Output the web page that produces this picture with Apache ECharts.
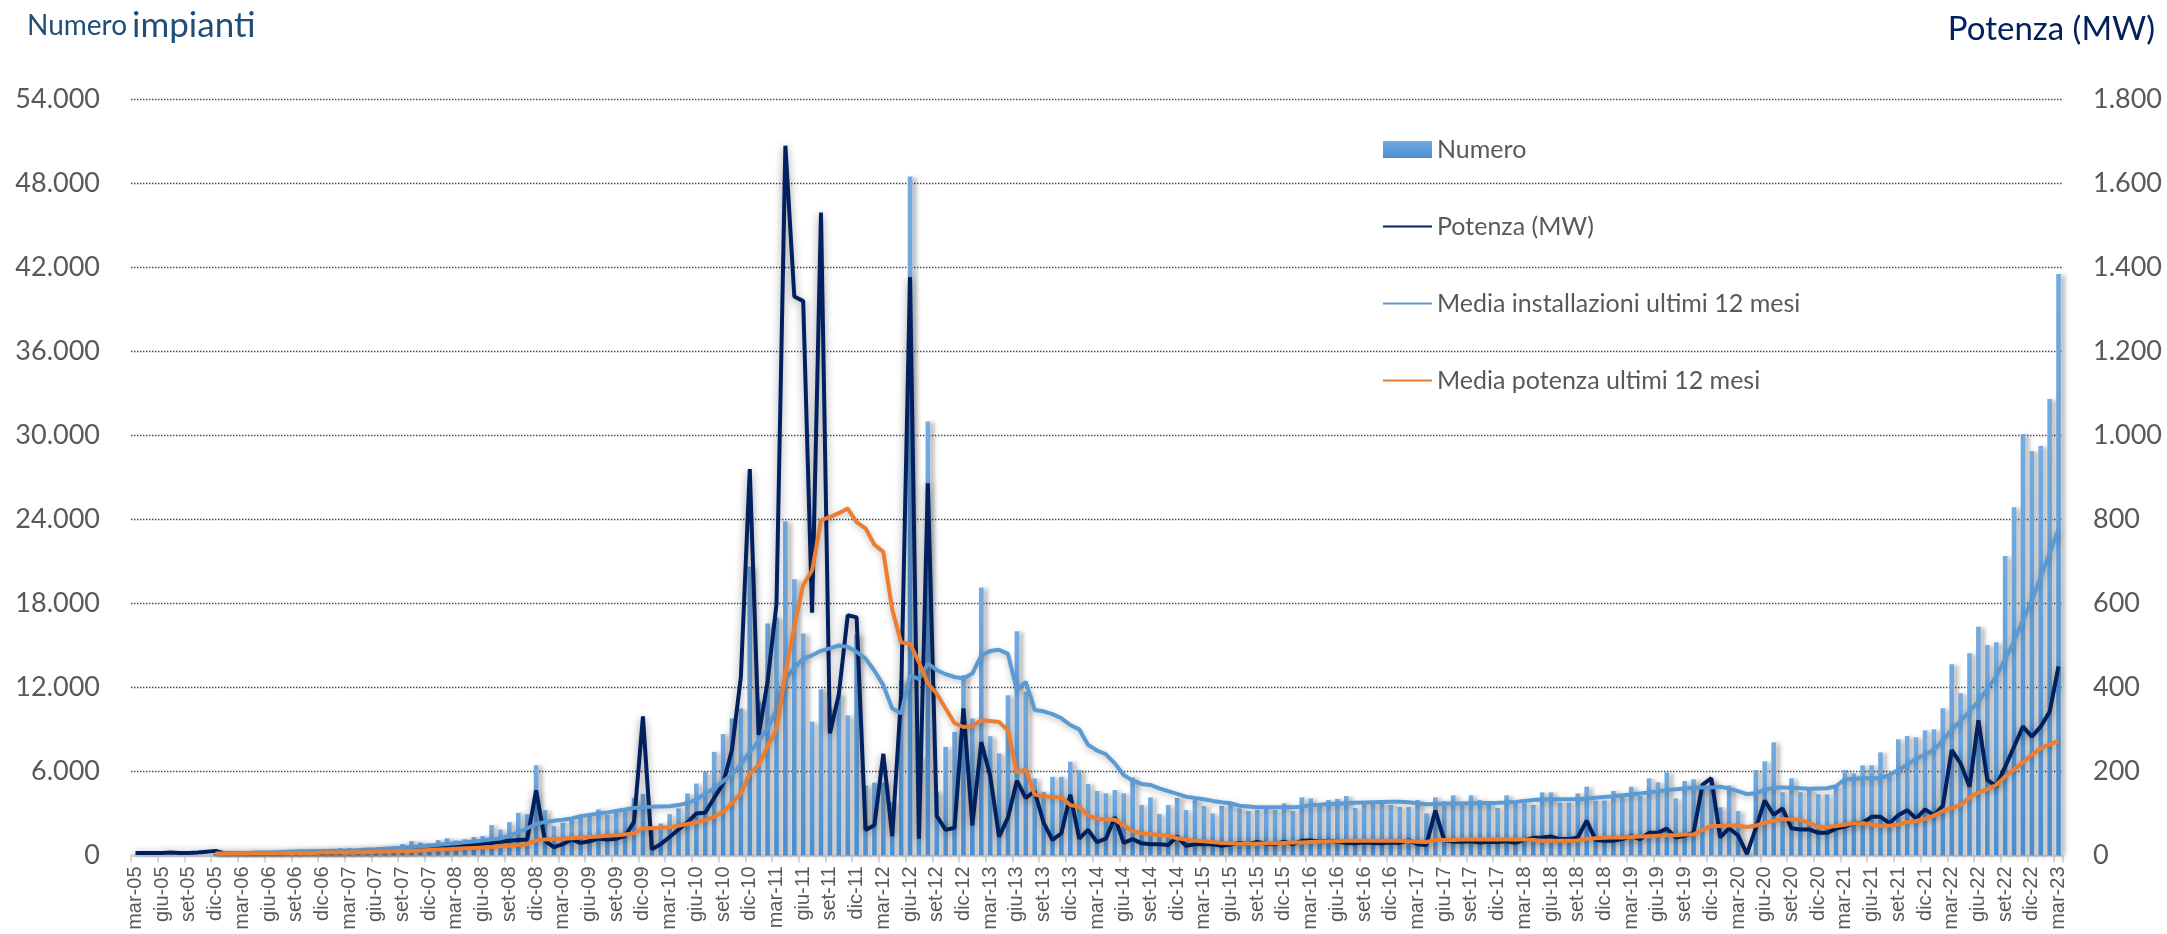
<!DOCTYPE html>
<html>
<head>
<meta charset="utf-8">
<script src="https://cdn.jsdelivr.net/npm/echarts@6/dist/echarts.min.js"></script>
<style>
html,body{margin:0;padding:0;background:#fff;}
#chart{width:2167px;height:934px;}
</style>
</head>
<body>
<div id="chart"></div>
<script>
// Month labels: mar-05 ... mar-23 (217 months)
var monthNames = ['gen','feb','mar','apr','mag','giu','lug','ago','set','ott','nov','dic'];
var categories = [];
for (var k = 0; k < 217; k++) {
  var m = (2 + k) % 12;
  var y = 5 + Math.floor((2 + k) / 12);
  categories.push(monthNames[m] + '-' + (y < 10 ? '0' + y : '' + y));
}

// Numero impianti (monthly)
var numero = [
  0,0,0,0,0,0,0,0,0,120,150,150,
  180,200,200,220,250,300,380,400,420,450,476,524,
  524,500,524,540,570,666,815,1030,935,865,1100,1235,
  1080,1160,1320,1390,2175,1860,2380,3050,2950,6450,3240,2090,
  2330,2620,2710,2880,3290,2920,3270,3400,4130,4400,1900,2290,
  2950,3360,4430,5140,5980,7400,8670,9790,10500,20620,11000,16570,
  17000,23880,19740,15860,9550,11880,10500,11500,10000,15800,5000,5200,
  5200,3800,12500,48500,7000,31000,4550,7760,8830,12880,9790,19140,
  8520,7290,11450,16020,11690,5500,4550,5620,5620,6700,6110,5110,
  4610,4440,4680,4440,5580,3610,4155,2965,3610,4110,3250,3960,
  3540,3010,3540,3610,3370,3180,3250,3370,3250,3730,3180,4155,
  4080,3730,3960,4040,4250,3390,3730,3730,3730,3610,3460,3460,
  3960,3010,4155,3890,4300,3850,4300,3960,3730,3390,4300,3730,
  3730,3610,4510,4510,3775,3775,4440,4917,3917,3917,4607,4321,
  4917,4250,5512,5226,5940,4083,5321,5440,4917,5393,3440,5000,
  3180,400,6107,6726,8083,4512,5512,4512,4679,4369,4369,4988,
  6107,5869,6440,6440,7369,5798,8297,8536,8440,8940,9012,10512,
  13655,11583,14440,16345,15036,15226,21390,24870,30110,28890,29250,32610,
  41540
];

// Potenza (MW) monthly
var potenza = [
  6,6,6,6,7,6,6,7,9,11,5,5,
  5,5,5,5,5,6,6,6,7,7,8,8,
  9,10,11,12,13,14,15,16,17,17,18,20,
  22,24,26,28,30,33,35,37,38,155,35,20,
  27,38,30,34,40,38,40,46,80,331,15,27,
  44,62,79,100,102,137,171,252,425,920,287,414,
  599,1690,1331,1320,578,1531,291,383,572,567,61,72,
  242,46,380,1377,40,886,94,61,66,350,72,270,
  190,45,90,178,137,153,78,37,53,145,40,61,
  32,40,91,30,39,29,27,27,25,45,23,27,
  27,27,23,26,30,27,32,28,27,33,27,35,
  36,33,35,33,30,29,31,30,29,31,30,36,
  27,25,107,36,33,33,34,31,33,32,34,30,
  37,42,43,45,39,39,43,83,37,35,35,39,
  46,39,54,54,64,43,47,54,168,184,43,65,
  48,4,65,131,97,112,65,62,62,54,54,64,
  69,77,78,92,92,77,96,108,88,110,96,118,
  251,219,164,322,180,165,211,259,307,283,307,342,
  450
];

// Media installazioni ultimi 12 mesi
var mediaNumero = [
  null,null,null,null,null,null,null,null,null,120,130,140,
  150,200,210,220,240,260,290,300,310,320,330,340,
  350,380,420,450,490,520,560,600,640,700,760,820,
  870,940,1000,1070,1160,1220,1400,1650,1950,2240,2400,2480,
  2560,2650,2800,2900,3000,3080,3180,3280,3400,3470,3480,3500,
  3520,3600,3750,4000,4400,4800,5300,5800,6500,7400,8200,9100,
  10400,12600,13400,14070,14300,14620,14800,15000,14900,14550,14070,13200,
  12170,10500,10140,12880,12600,13700,13250,12950,12750,12650,13000,14300,
  14600,14700,14400,11810,12400,10400,10300,10100,9800,9320,9010,7900,
  7500,7230,6580,5750,5350,5110,5040,4800,4600,4400,4200,4100,
  4020,3900,3800,3730,3560,3500,3440,3440,3440,3440,3450,3480,
  3600,3630,3670,3700,3730,3770,3790,3810,3830,3840,3845,3800,
  3730,3660,3680,3700,3710,3720,3730,3740,3750,3760,3780,3830,
  3900,3960,4000,4010,4010,4010,4020,4060,4120,4180,4240,4300,
  4360,4430,4500,4580,4670,4730,4790,4840,4850,4860,4910,4780,
  4600,4390,4450,4680,4850,4850,4840,4800,4760,4780,4800,4950,
  5450,5480,5510,5510,5520,5750,6100,6500,6900,7200,7550,8200,
  9000,9600,10300,11000,11900,12800,14000,15300,16800,18200,19900,21600,
  23300
];

// Media potenza ultimi 12 mesi
var mediaPotenza = [
  null,null,null,null,null,null,null,null,null,5,5,5,
  5,5,5,5,5,6,6,6,6,7,7,7,
  7,8,8,9,9,10,11,11,12,13,14,15,
  16,17,18,19,20,22,23,25,27,36,38,39,
  40,41,43,44,45,47,48,50,53,65,65,66,
  67,71,75,79,84,92,104,125,148,195,215,260,
  300,433,545,644,679,798,806,815,826,794,779,740,
  723,586,507,505,460,410,385,350,315,306,308,322,
  320,318,298,198,205,145,141,139,138,120,116,95,
  88,86,85,72,58,53,51,49,47,41,38,35,
  34,32,30,29,28,28,28,29,29,30,31,31,
  32,33,34,34,35,35,35,35,35,35,35,34,
  33,32,37,37,37,38,38,38,38,38,38,38,
  38,37,35,35,35,35,36,40,41,42,43,43,
  44,45,46,47,48,48,50,50,61,70,70,72,
  71,68,71,78,82,87,86,85,77,68,68,70,
  73,77,77,74,71,71,74,79,82,87,95,106,
  113,120,138,150,158,168,188,205,222,240,255,265,
  272
];

function itNum(v) {
  return String(v).replace(/\B(?=(\d{3})+(?!\d))/g, '.');
}

var chart = echarts.init(document.getElementById('chart'), null, {renderer: 'canvas'});
var labelColor = '#595959';
var hiddenSymbol = {opacity: 0};
var option = {
  animation: false,
  backgroundColor: '#ffffff',
  title: [
    {
      text: '{a|Numero} {b|impianti}',
      left: 22, top: 3,
      textStyle: {
        fontWeight: 'normal',
        rich: {
          a: {fontFamily: 'Lato', fontSize: 28, fontWeight: 'normal', color: '#1F4E79'},
          b: {fontFamily: 'Lato', fontSize: 35, fontWeight: 'normal', color: '#1F4E79'}
        }
      }
    },
    {
      text: 'Potenza (MW)',
      right: 7, top: 8,
      textStyle: {fontFamily: 'Lato', fontSize: 33, fontWeight: 'normal', color: '#002060'}
    }
  ],
  legend: {
    orient: 'vertical',
    left: 1377, top: 132,
    itemWidth: 49, itemHeight: 17, itemGap: 52,
    textStyle: {fontFamily: 'Lato', fontSize: 25, color: '#595959', lineHeight: 25},
    data: [
      {name: 'Numero', icon: 'rect'},
      {name: 'Potenza (MW)', itemStyle: hiddenSymbol},
      {name: 'Media installazioni ultimi 12 mesi', itemStyle: hiddenSymbol},
      {name: 'Media potenza ultimi 12 mesi', itemStyle: hiddenSymbol}
    ]
  },
  grid: {left: 131, right: 104, top: 99.5, bottom: 78.5, containLabel: false},
  xAxis: {
    type: 'category',
    data: categories,
    boundaryGap: true,
    axisLine: {lineStyle: {color: '#d9d9d9', width: 2}},
    axisTick: {show: true, interval: 2, length: 7, lineStyle: {color: '#d9d9d9', width: 2}},
    axisLabel: {interval: 2, rotate: 90, margin: 11, fontFamily: 'Liberation Sans', fontSize: 20, color: labelColor}
  },
  yAxis: [
    {
      type: 'value', min: 0, max: 54000, interval: 6000,
      axisLine: {show: false}, axisTick: {show: false},
      axisLabel: {margin: 31, fontFamily: 'Lato', fontSize: 27, color: labelColor, formatter: itNum},
      splitLine: {show: true, lineStyle: {color: '#404040', width: 1.4, type: [1.4, 1.6]}}
    },
    {
      type: 'value', min: 0, max: 1800, interval: 200,
      axisLine: {show: false}, axisTick: {show: false},
      axisLabel: {margin: 30, fontFamily: 'Lato', fontSize: 27, color: labelColor, formatter: itNum},
      splitLine: {show: false}
    }
  ],
  series: [
    {
      name: 'Numero', type: 'bar', yAxisIndex: 0, data: numero,
      barWidth: '52%',
      itemStyle: {
        color: new echarts.graphic.LinearGradient(0, 0, 0, 1, [
          {offset: 0, color: '#74abe0'},
          {offset: 1, color: '#4a8ed0'}
        ]),
        shadowColor: 'rgba(0,0,0,0.30)', shadowBlur: 4, shadowOffsetX: 4, shadowOffsetY: 1
      }
    },
    {
      name: 'Potenza (MW)', type: 'line', yAxisIndex: 1, data: potenza,
      symbol: 'none', showSymbol: false,
      itemStyle: {color: '#002060'},
      lineStyle: {color: '#002060', width: 4, shadowColor: 'rgba(0,0,0,0.4)', shadowBlur: 8, shadowOffsetY: 2}
    },
    {
      name: 'Media installazioni ultimi 12 mesi', type: 'line', yAxisIndex: 0, data: mediaNumero,
      symbol: 'none', showSymbol: false,
      itemStyle: {color: '#5b9bd5'},
      lineStyle: {color: '#5b9bd5', width: 4, shadowColor: 'rgba(0,0,0,0.25)', shadowBlur: 6, shadowOffsetY: 2}
    },
    {
      name: 'Media potenza ultimi 12 mesi', type: 'line', yAxisIndex: 1, data: mediaPotenza,
      symbol: 'none', showSymbol: false,
      itemStyle: {color: '#ed7d31'},
      lineStyle: {color: '#ed7d31', width: 4, shadowColor: 'rgba(0,0,0,0.25)', shadowBlur: 6, shadowOffsetY: 2}
    }
  ]
};
chart.setOption(option);
</script>
</body>
</html>
